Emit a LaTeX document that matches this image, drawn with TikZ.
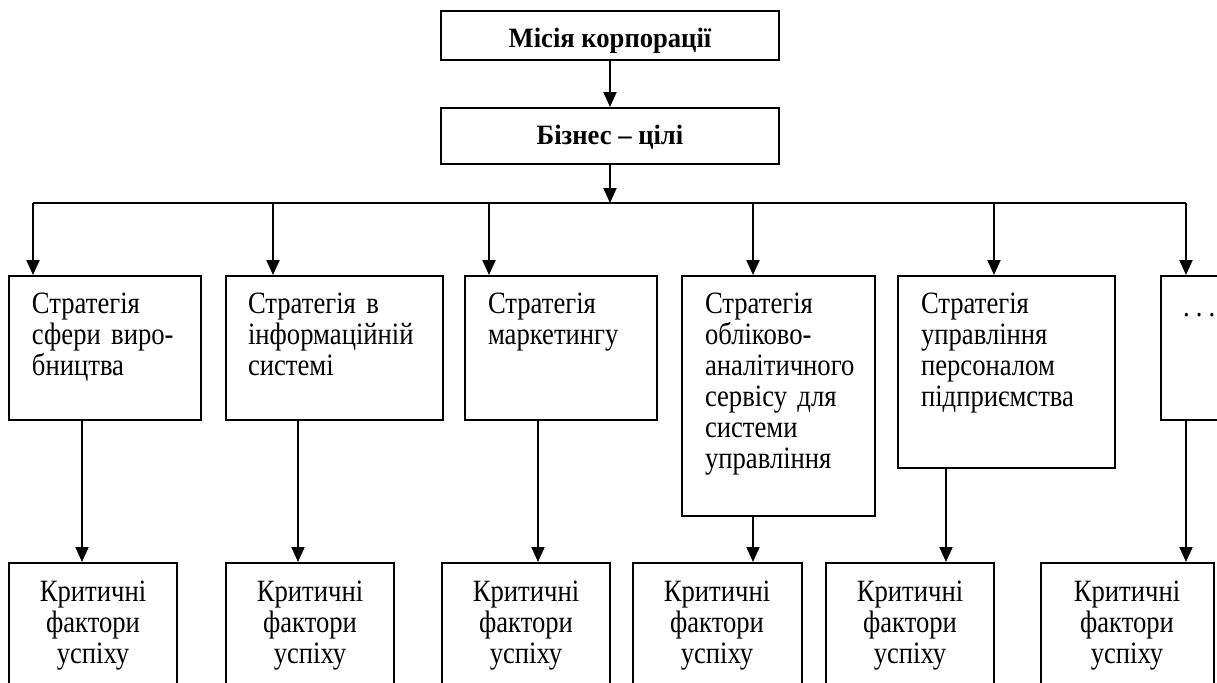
\documentclass[tikz,border=0pt]{standalone}
\usepackage{fontspec}
\setmainfont{Liberation Serif}
% narrow serif faces for box labels and for headings
\newfontfamily\labelfont{Liberation Serif}[FakeStretch=0.86]
\newfontfamily\headfont{Liberation Serif}[FakeStretch=0.95]
\usetikzlibrary{arrows.meta,fit}
\begin{document}
\begin{tikzpicture}[x=0.5pt,y=-0.5pt,line width=1pt,
  frame/.style={draw,line width=1pt,inner sep=0pt,fit={#1}},
  arr/.style={line width=1pt,-{Triangle[width=6.5pt,length=7.5pt]}},
  ltxt/.style={anchor=base west,align=left,text width=150pt,inner sep=0pt,
               font=\labelfont\fontsize{15.5}{15.5}\selectfont},
  ctxt/.style={anchor=base,align=center,text width=80pt,inner sep=0pt,
               font=\labelfont\fontsize{15.5}{15.5}\selectfont},
  ttl/.style={anchor=base,inner sep=0pt,font=\headfont\bfseries\fontsize{14}{15.5}\selectfont}]
\useasboundingbox (0,0) rectangle (1217,682);
\clip (0,0) rectangle (1217,682);

% top level
\node[frame={(441,11) (779,60)}] (mission) {};
\node[ttl] (missiontxt) at (610,47) {Місія корпорації};
\node[frame={(441,108) (779,164)}] (goals) {};
\node[ttl] (goalstxt) at (610,144) {Бізнес – цілі};
\draw[arr] (mission) -- (goals);

% distribution line
\coordinate (j1) at (33,203);
\coordinate (j2) at (273,203);
\coordinate (j3) at (489,203);
\coordinate (j4) at (753,203);
\coordinate (j5) at (994,203);
\coordinate (j6) at (1186,203);
\draw[arr] (goals.south) -- (goals.south |- j1);
\draw (j1) -- (j6);

% strategy boxes
\node[frame={(9,276) (201,420)}] (s1box) {};
\node[frame={(226,276) (443,420)}] (s2box) {};
\node[frame={(465,276) (657,420)}] (s3box) {};
\node[frame={(682,276) (875,516)}] (s4box) {};
\node[frame={(898,276) (1115,468)}] (s5box) {};
\node[frame={(1161,276) (1240,420)}] (s6box) {};

\node[ltxt] (s1) at (31,313) {Стратегія\\сфери виро-\\бництва};
\node[ltxt] (s2) at (247,313) {Стратегія в\\інформаційній\\системі};
\node[ltxt] (s3) at (487,313) {Стратегія\\маркетингу};
\node[ltxt] (s4) at (704,313) {Стратегія\\обліково-\\аналітичного\\сервісу для\\системи\\управління};
\node[ltxt] (s5) at (920,313) {Стратегія\\управління\\персоналом\\підприємства};
\node[ltxt] (s6) at (1182,316) {.\kern.2em.\kern.2em.};

\foreach \i in {1,...,6}
  \draw[arr] (j\i) -- (j\i |- s\i box.north);

% critical success factors
\node[frame={(9,563) (177,720)}] (k1) {};
\node[frame={(226,563) (394,720)}] (k2) {};
\node[frame={(442,563) (610,720)}] (k3) {};
\node[frame={(633,563) (802,720)}] (k4) {};
\node[frame={(826,563) (994,720)}] (k5) {};
\node[frame={(1041,563) (1214,720)}] (k6) {};

\foreach \i/\x in {1/93,2/310,3/526,4/717,5/910,6/1127}
  \node[ctxt] (k\i txt) at (\x,601) {Критичні\\фактори\\успіху};

\coordinate (d1) at (82,0);
\coordinate (d2) at (298,0);
\coordinate (d3) at (538,0);
\coordinate (d4) at (753,0);
\coordinate (d5) at (946,0);
\coordinate (d6) at (1186,0);
\foreach \i in {1,...,6}
  \draw[arr] (d\i |- s\i box.south) -- (d\i |- k\i.north);
\end{tikzpicture}
\end{document}
